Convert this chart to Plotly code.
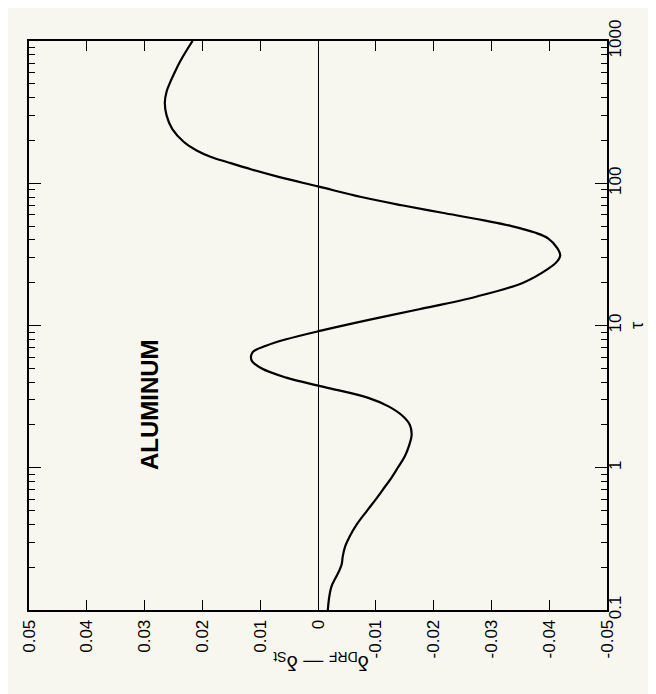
import plotly.graph_objects as go

# tau (log axis, drawn vertically) and delta_DRF - delta_St (drawn horizontally, reversed)
tau = [0.1, 0.12, 0.145, 0.167, 0.19, 0.21, 0.24, 0.28, 0.33, 0.4, 0.5, 0.6, 0.7, 0.85,
       1.0, 1.2, 1.45, 1.7, 2.0, 2.3, 2.7, 3.1, 3.7, 4.3, 5.0, 5.7, 6.5, 7.2, 8.0, 9.2,
       11.0, 13.0, 16.0, 20.0, 25.0, 28.0, 31.0, 35.0, 41.0, 45.0, 50.0, 55.0, 62.0, 70.0, 80.0, 95.0,
       110.0, 125.0, 140.0, 153.0, 170.0, 195.0, 240.0, 300.0, 370.0, 440.0, 510.0, 600.0,
       700.0, 850.0, 1000.0]
delta = [-0.0017, -0.0019, -0.0023, -0.0030, -0.0037, -0.0041, -0.0043, -0.0047, -0.0055, -0.0067,
         -0.0085, -0.0100, -0.0112, -0.0127, -0.0138, -0.0150, -0.0158, -0.0162, -0.0159, -0.0147,
         -0.0122, -0.0087, -0.0010, 0.0055, 0.0098, 0.0115, 0.0113, 0.0090, 0.0055, -0.0005,
         -0.0090, -0.0175, -0.0275, -0.0355, -0.0398, -0.0413, -0.0419, -0.0414, -0.0398, -0.0375,
         -0.0335, -0.0285, -0.0215, -0.0145, -0.0075, 0.0000,
         0.0065, 0.0115, 0.0155, 0.0185, 0.0210, 0.0232, 0.0252, 0.0262, 0.0265, 0.0262, 0.0256, 0.0248,
         0.0240, 0.0228, 0.0217]

x_ticks = [0.05, 0.04, 0.03, 0.02, 0.01, 0.0, -0.01, -0.02, -0.03, -0.04, -0.05]
x_ticktext = ["0.05", "0.04", "0.03", "0.02", "0.01", "0", "-0.01", "-0.02", "-0.03", "-0.04", "-0.05"]
y_ticks = [0.1, 1, 10, 100, 1000]
y_ticktext = ["0.1", "1", "10", "100", "1000"]

FONT = "Liberation Sans, Arial, Helvetica, sans-serif"
BG = "#f7f7ef"

fig = go.Figure()
fig.add_trace(go.Scatter(x=delta, y=tau, mode="lines",
                         line=dict(color="black", width=2.2, shape="spline", smoothing=1.0),
                         hoverinfo="skip", showlegend=False))

fig.update_layout(
    width=656, height=694,
    margin=dict(l=19, r=57, t=28, b=92),
    paper_bgcolor=BG, plot_bgcolor=BG,
    font=dict(family=FONT, size=17, color="black"),
    showlegend=False,
    xaxis=dict(
        range=[0.05, -0.05], tickvals=x_ticks, ticktext=x_ticktext, tickangle=-90,
        ticks="inside", ticklen=10, tickwidth=1, tickcolor="black",
        showline=True, linecolor="black", linewidth=1.8, mirror="ticks",
        showgrid=False, zeroline=True, zerolinecolor="black", zerolinewidth=1,
        tickfont=dict(family=FONT, size=17), ticklabelstandoff=1,
    ),
    yaxis=dict(
        type="log", range=[-1, 3], side="right",
        tickvals=y_ticks, ticktext=y_ticktext, tickangle=-90,
        ticks="inside", ticklen=12, tickwidth=1, tickcolor="black",
        minor=dict(ticks="inside", ticklen=6, tickwidth=1, tickcolor="black", dtick="D1", showgrid=False),
        showline=True, linecolor="black", linewidth=1.8, mirror="ticks",
        showgrid=False, zeroline=False,
        tickfont=dict(family=FONT, size=17), ticklabelstandoff=-8,
    ),
    annotations=[
        dict(text="<b>ALUMINUM</b>", xref="paper", yref="paper", x=0.183, y=0.242,
             showarrow=False, textangle=-90, font=dict(family=FONT, size=24, color="black")),
        dict(text="τ", xref="paper", yref="paper", x=1.072, y=0.5,
             showarrow=False, textangle=-90, font=dict(family=FONT, size=18, color="black")),
        dict(text="δ<sub>DRF</sub> — δ<sub>St</sub>", xref="paper", yref="paper", x=0.505, y=-0.117,
             showarrow=False, textangle=180, font=dict(family=FONT, size=20, color="black")),
    ],
)

fig.write_html("out.html")
